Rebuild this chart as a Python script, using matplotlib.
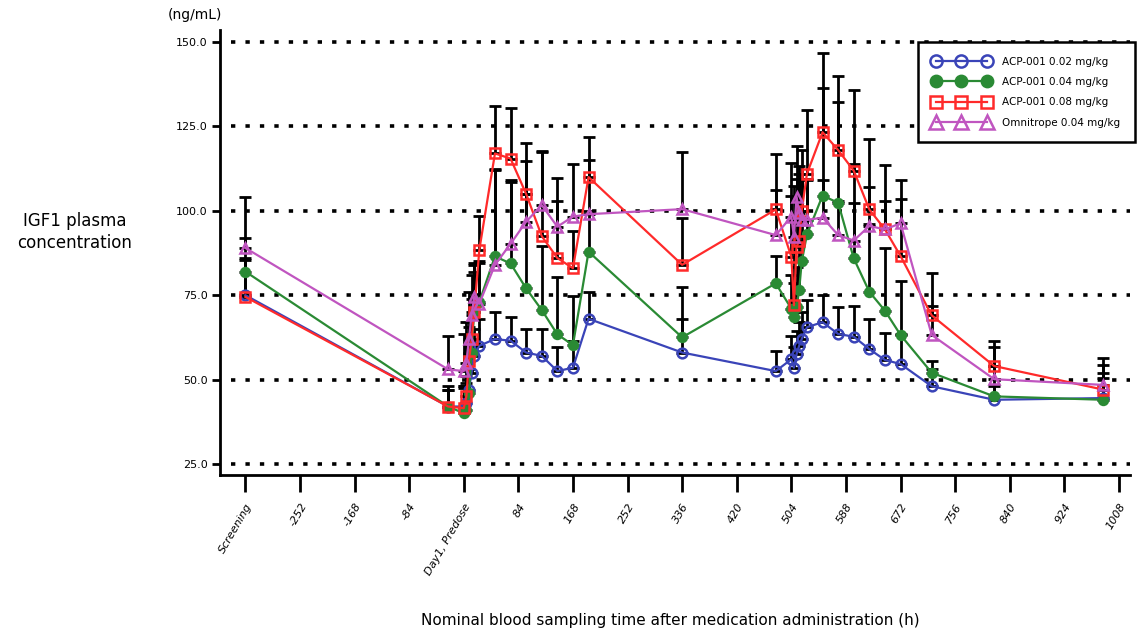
import matplotlib
matplotlib.use("Agg")
import matplotlib.pyplot as plt
import numpy as np

# ---------------- data ----------------
times = [-336, -24, 0, 4, 8, 12, 16, 24, 48, 72, 96, 120, 144, 168, 192, 336,
         480, 504, 508, 512, 516, 520, 528, 552, 576, 600, 624, 648, 672, 720, 816, 984]

acp_002 = [75, 42, 42, 43, 47, 52, 57, 60, 62, 61.5, 58, 57, 52.5, 53.5, 68, 58,
           52.5, 56, 53.5, 57.5, 60, 62, 65.5, 67, 63.5, 62.7, 59, 55.8, 54.6, 48, 44, 44.5]
acp_002_err = [11, 5, 6, 6, 6, 7, 8, 8, 8, 7, 7, 8, 7, 8, 8, 10,
               6, 7, 6, 7, 7, 8, 8, 8, 8, 9, 9, 8, 9, 5, 4, 6]

acp_004 = [82, 42, 40, 41, 46, 58, 70, 73, 86.5, 84.4, 77, 70.6, 63.4, 60.2, 87.9, 62.5,
           78.5, 71, 68.6, 71.5, 76.5, 85, 93, 104.5, 102.4, 85.9, 76, 70.4, 63.2, 52, 45, 44]
acp_004_err = [10, 6, 8, 10, 12, 12, 12, 12, 26, 24, 28, 19, 17, 14.5, 12, 15,
               8, 10, 10, 12, 14, 15, 16, 32, 30, 28, 20, 18.5, 16, 3.5, 9, 8]

acp_008 = [74.5, 42, 41.5, 45, 55.5, 62, 70, 88.5, 117, 115.5, 105, 92.5, 86, 83, 110, 84,
           100.4, 86.4, 72, 89.4, 91, 100, 111, 123.3, 118, 111.9, 100.4, 94.5, 86.6, 69, 54, 47]
acp_008_err = [11, 5, 6, 8, 10, 12, 14, 10, 14, 15, 15, 25, 17, 11, 12, 14,
               16.5, 18, 25, 20, 20, 18, 19, 23.5, 22, 24, 21, 19, 22.5, 12.5, 7.5, 9.5]

omni_004 = [89, 53, 52.5, 55, 62, 69, 74.5, 72.5, 84, 90.2, 96.8, 101.7, 95.3, 98.3, 99, 100.5,
            92.8, 98.3, 92.3, 104.2, 99.3, 97.3, 97.3, 98, 92.8, 91.2, 95.5, 94.5, 96.3, 63.2, 50.1, 48.4]
omni_004_err = [15, 10, 11, 12, 14, 12, 10, 12, 28, 19, 18, 16, 14.5, 15.5, 16, 17,
                13.5, 16, 15, 15, 14, 12, 12, 11, 10, 11, 11.6, 8.5, 7.2, 8.5, 9.5, 6]

series_labels = ["ACP-001 0.02 mg/kg", "ACP-001 0.04 mg/kg",
                 "ACP-001 0.08 mg/kg", "Omnitrope 0.04 mg/kg"]

xtick_values = [-336, -252, -168, -84, 0, 84, 168, 252, 336, 420, 504, 588, 672, 756, 840, 924, 1008]
xtick_labels = ["Screening", "-252", "-168", "-84", "Day1, Predose", "84", "168", "252",
                "336", "420", "504", "588", "672", "756", "840", "924", "1008"]
ytick_values = [25, 50, 75, 100, 125, 150]

# ---------------- figure ----------------
W, H = 1137, 635
fig = plt.figure(figsize=(W / 100, H / 100), dpi=100)
ax_left, ax_right, ax_top, ax_bottom = 220, 1130, 30, 475
ax = fig.add_axes([ax_left / W, 1 - ax_bottom / H,
                   (ax_right - ax_left) / W, (ax_bottom - ax_top) / H])

ax.set_xlim(-375, 1025)
ax.set_ylim(21.7, 153.6)

# dotted gridlines
for yv in ytick_values:
    ax.axhline(yv, xmin=0.012, xmax=1.0, color="black", lw=2.6,
               linestyle=(0, (1.2, 2.8)), dash_capstyle="butt", zorder=1)

styles = [
    dict(color="#3a44b8", marker="o", mfc="none", ms=7, mew=1.8),
    dict(color="#2a8a34", marker="o", mfc="#2a8a34", ms=7, mew=1.2),
    dict(color="#ff2a2a", marker="s", mfc="none", ms=7, mew=1.8),
    dict(color="#c055c0", marker="^", mfc="none", ms=7.5, mew=1.8),
]
data = [(acp_002, acp_002_err), (acp_004, acp_004_err),
        (acp_008, acp_008_err), (omni_004, omni_004_err)]

t = np.array(times, dtype=float)
for (vals, errs) in data:
    v = np.array(vals, dtype=float)
    e = np.array(errs, dtype=float)
    ax.errorbar(t, v, yerr=[np.zeros_like(e), e], fmt="none", ecolor="black",
                elinewidth=2.0, capsize=4.5, capthick=2.0, zorder=2)

handles = []
for (vals, errs), st, lab in zip(data, styles, series_labels):
    h, = ax.plot(t, vals, lw=1.6, label=lab, zorder=3, **st)
    handles.append(h)

# spines & ticks
for s in ["top", "right"]:
    ax.spines[s].set_visible(False)
ax.spines["left"].set_linewidth(2.0)
ax.spines["bottom"].set_linewidth(2.0)

ax.set_yticks(ytick_values)
ax.set_yticklabels([f"{v:.1f}" for v in ytick_values], fontsize=8)
ax.tick_params(axis="y", direction="out", length=6, width=2, pad=3)

ax.set_xticks(xtick_values)
ax.set_xticklabels(xtick_labels, fontsize=8, rotation=60, ha="right",
                   rotation_mode="anchor", style="italic")
ax.tick_params(axis="x", direction="out", length=12, width=2, pad=7)

# axis texts
fig.text(670 / W, 1 - 620 / H,
         "Nominal blood sampling time after medication administration (h)",
         fontsize=11, ha="center", va="center")
fig.text(75 / W, 1 - 232 / H, "IGF1 plasma\nconcentration", fontsize=12,
         ha="center", va="center", linespacing=1.3)
fig.text(195 / W, 1 - 15 / H, "(ng/mL)", fontsize=10, ha="center", va="center")

# legend
leg = ax.legend(handles=handles, loc="upper right",
                bbox_to_anchor=((1135 - ax_left) / (ax_right - ax_left),
                                (ax_bottom - 42) / (ax_bottom - ax_top)),
                fontsize=7.5, numpoints=3, handlelength=5.5, handletextpad=1.2,
                borderpad=1.4, labelspacing=1.0, fancybox=False, framealpha=1,
                edgecolor="black", borderaxespad=0, markerscale=1.25)
leg.get_frame().set_linewidth(1.8)
leg.set_zorder(5)

fig.savefig("out.png", dpi=100)
